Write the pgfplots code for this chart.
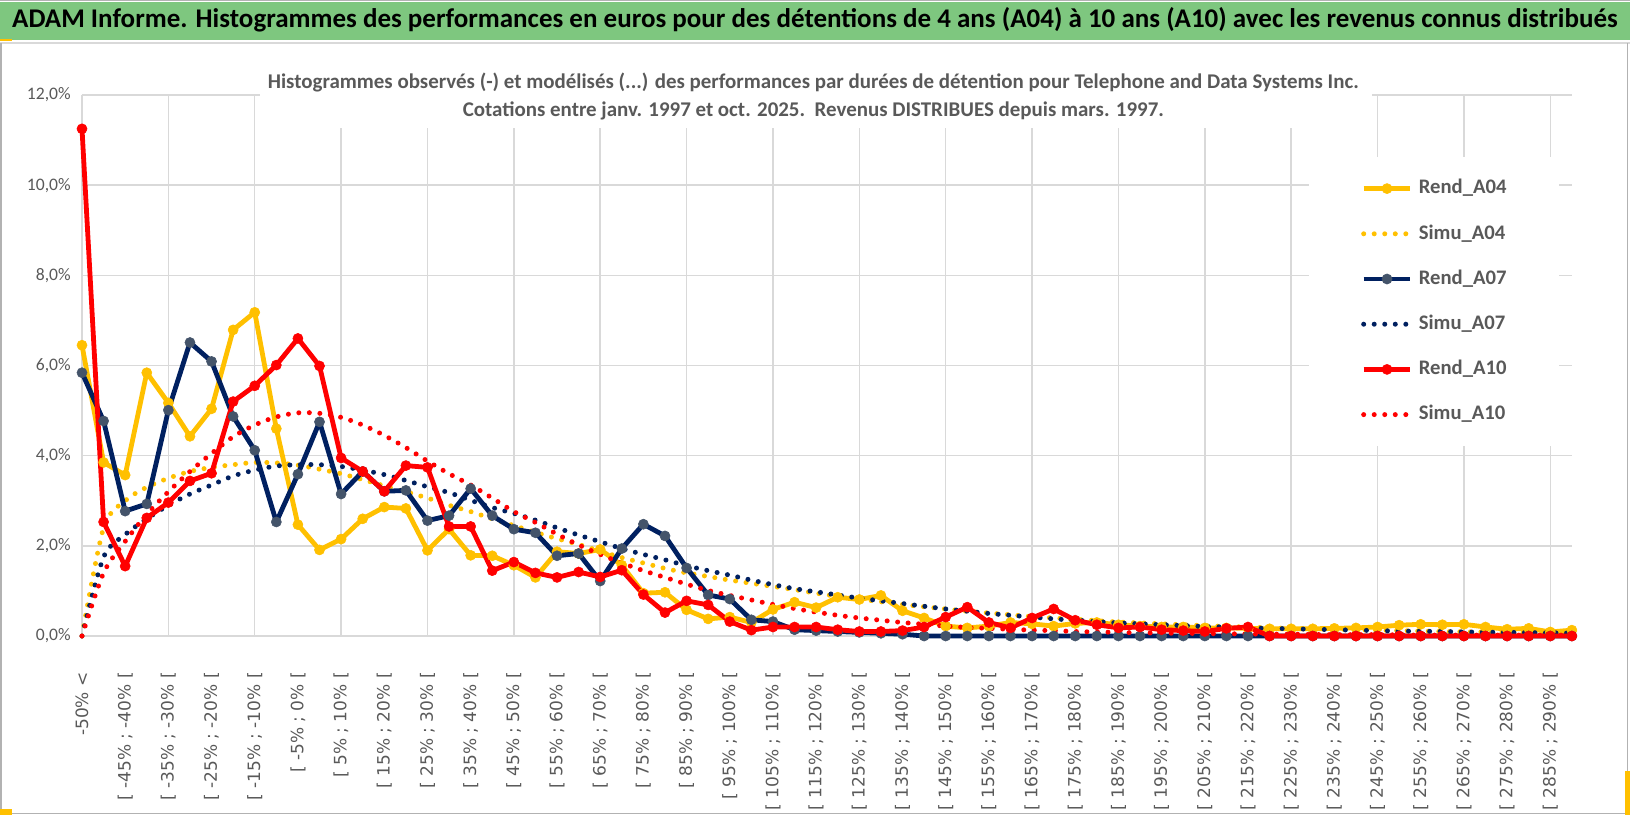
\documentclass[border=0pt]{standalone}
\usepackage{fontspec}
\setmainfont{Carlito}
\newfontfamily\xfont{DejaVu Sans}
\usepackage{graphicx}
\usepackage{pgfplots}
\pgfplotsset{compat=1.18}
\usepackage{pgfplotstable}
\definecolor{gold}{HTML}{FFC000}
\definecolor{navy}{HTML}{002060}
\definecolor{navymark}{HTML}{44546A}
\definecolor{rred}{HTML}{FF0000}
\definecolor{txtgray}{HTML}{595959}
\definecolor{gridgray}{HTML}{D9D9D9}
\definecolor{titlegreen}{HTML}{7EC77F}
\pgfplotstableread{
i r04 s04 r07 s07 r10 s10
0 6.45 0 5.84 0 11.25 0
1 3.85 2.40 4.77 1.75 2.53 1.40
2 3.57 3.00 2.77 2.25 1.55 2.10
3 5.84 3.30 2.93 2.60 2.62 2.70
4 5.17 3.50 5.01 2.90 2.96 3.20
5 4.43 3.65 6.51 3.15 3.44 3.65
6 5.04 3.74 6.09 3.35 3.61 4.05
7 6.79 3.80 4.87 3.55 5.20 4.42
8 7.18 3.85 4.12 3.68 5.55 4.68
9 4.60 3.84 2.53 3.77 6.01 4.86
10 2.47 3.79 3.59 3.80 6.60 4.95
11 1.91 3.70 4.75 3.80 5.99 4.94
12 2.15 3.60 3.15 3.76 3.95 4.85
13 2.60 3.47 3.65 3.68 3.65 4.68
14 2.86 3.33 3.21 3.58 3.21 4.45
15 2.83 3.20 3.23 3.45 3.78 4.18
16 1.90 3.06 2.56 3.31 3.74 3.88
17 2.37 2.90 2.67 3.18 2.43 3.60
18 1.79 2.76 3.27 3.01 2.43 3.35
19 1.78 2.60 2.67 2.85 1.45 3.06
20 1.57 2.45 2.37 2.72 1.64 2.76
21 1.30 2.30 2.29 2.57 1.40 2.52
22 1.87 2.16 1.78 2.40 1.30 2.26
23 1.83 2.03 1.83 2.24 1.42 2.02
24 1.92 1.88 1.22 2.09 1.31 1.81
25 1.57 1.74 1.94 1.94 1.46 1.62
26 0.95 1.62 2.48 1.81 0.92 1.45
27 0.97 1.50 2.22 1.69 0.52 1.30
28 0.58 1.40 1.51 1.56 0.78 1.15
29 0.38 1.32 0.91 1.45 0.69 1.01
30 0.42 1.24 0.82 1.35 0.32 0.90
31 0.30 1.17 0.36 1.24 0.13 0.80
32 0.59 1.10 0.32 1.14 0.20 0.70
33 0.75 1.03 0.14 1.05 0.20 0.61
34 0.63 0.95 0.12 0.98 0.20 0.53
35 0.86 0.88 0.10 0.91 0.14 0.46
36 0.81 0.82 0.08 0.84 0.10 0.40
37 0.90 0.76 0.06 0.78 0.10 0.35
38 0.56 0.70 0.04 0.72 0.12 0.30
39 0.40 0.65 0 0.66 0.20 0.26
40 0.22 0.60 0 0.60 0.42 0.22
41 0.18 0.55 0 0.55 0.64 0.19
42 0.22 0.51 0 0.50 0.30 0.17
43 0.30 0.47 0 0.46 0.18 0.15
44 0.27 0.43 0 0.42 0.40 0.13
45 0.22 0.40 0 0.38 0.60 0.12
46 0.28 0.37 0 0.35 0.35 0.10
47 0.30 0.34 0 0.32 0.25 0.09
48 0.25 0.31 0 0.29 0.18 0.08
49 0.22 0.29 0 0.27 0.20 0.07
50 0.20 0.27 0 0.25 0.14 0.065
51 0.20 0.25 0 0.23 0.12 0.06
52 0.18 0.23 0 0.21 0.10 0.055
53 0.18 0.21 0 0.20 0.17 0.05
54 0.17 0.20 0 0.18 0.20 0.045
55 0.16 0.18 0 0.17 0 0.04
56 0.16 0.17 0 0.16 0 0.04
57 0.16 0.16 0 0.15 0 0.035
58 0.17 0.15 0 0.14 0 0.03
59 0.18 0.14 0 0.13 0 0.03
60 0.20 0.13 0 0.12 0 0.03
61 0.24 0.12 0 0.11 0 0.025
62 0.26 0.11 0 0.105 0 0.02
63 0.25 0.10 0 0.10 0 0.02
64 0.26 0.095 0 0.09 0 0.02
65 0.20 0.09 0 0.085 0 0.02
66 0.15 0.085 0 0.08 0 0.02
67 0.17 0.08 0 0.075 0 0.02
68 0.09 0.075 0 0.07 0 0.02
69 0.13 0.07 0 0.065 0 0.02
}\data
\begin{document}
\begin{tikzpicture}
\path[use as bounding box] (0,0) rectangle (1222.5pt,-611.25pt);
\fill[titlegreen] (0,-1.5pt) rectangle (1222.5pt,-30pt);
\draw[gray!60, line width=1pt] (0,-0.5pt) -- (1222.5pt,-0.5pt);
\draw[gridgray, line width=1.5pt] (0,-32pt) -- (1222.5pt,-32pt);
\draw[gray!60, line width=1.2pt] (0.6pt,-32pt) -- (0.6pt,-610pt) -- (1220.5pt,-610pt) -- (1220.5pt,-32pt);
\fill[gold] (0,-29pt) rectangle (9pt,-31pt);
\fill[gold] (0,-607pt) rectangle (9pt,-611.25pt);
\fill[gold] (1219pt,-578pt) rectangle (1222.5pt,-611.25pt);
\begin{axis}[
  at={(61.5pt,-477pt)}, anchor=south west,
  scale only axis, width=1117.5pt, height=405.75pt,
  xmin=0, xmax=69, ymin=0, ymax=12,
  clip=false,
  axis line style={draw=none},
  major tick length=0pt, minor tick length=0pt,
  ytick={0,2,...,12},
  yticklabels={{0,0\%},{2,0\%},{4,0\%},{6,0\%},{8,0\%},{10,0\%},{12,0\%}},
  yticklabel style={anchor=east, inner sep=0pt, xshift=-8.25pt, text=txtgray, font=\fontsize{13.2pt}{15pt}\selectfont},
  ymajorgrids=true,
  grid style={gridgray, line width=1.1pt},
  minor grid style={gridgray, line width=1.1pt},
  xtick={0,2,...,68},
  minor xtick={0,4,...,68},
  xminorgrids=true,
  xticklabels={{-50\% <},{[ -45\% ; -40\% [},{[ -35\% ; -30\% [},{[ -25\% ; -20\% [},{[ -15\% ; -10\% [},{[ -5\% ; 0\% [},{[ 5\% ; 10\% [},{[ 15\% ; 20\% [},{[ 25\% ; 30\% [},{[ 35\% ; 40\% [},{[ 45\% ; 50\% [},{[ 55\% ; 60\% [},{[ 65\% ; 70\% [},{[ 75\% ; 80\% [},{[ 85\% ; 90\% [},{[ 95\% ; 100\% [},{[ 105\% ; 110\% [},{[ 115\% ; 120\% [},{[ 125\% ; 130\% [},{[ 135\% ; 140\% [},{[ 145\% ; 150\% [},{[ 155\% ; 160\% [},{[ 165\% ; 170\% [},{[ 175\% ; 180\% [},{[ 185\% ; 190\% [},{[ 195\% ; 200\% [},{[ 205\% ; 210\% [},{[ 215\% ; 220\% [},{[ 225\% ; 230\% [},{[ 235\% ; 240\% [},{[ 245\% ; 250\% [},{[ 255\% ; 260\% [},{[ 265\% ; 270\% [},{[ 275\% ; 280\% [},{[ 285\% ; 290\% [}},
  xticklabel style={yshift=-27pt, rotate=90, anchor=east, inner sep=0pt, text=txtgray, font=\xfont\fontsize{12.75pt}{14pt}\selectfont},
  legend style={at={(0.8235,0.8854)}, anchor=north west, draw=none, fill=white,
    inner xsep=39pt, inner ysep=16pt, row sep=18.9pt,
    font=\fontsize{15.5pt}{18pt}\selectfont\bfseries, text=txtgray,
    nodes={inner sep=0pt, text height=11.5pt, text depth=3.5pt},
    /tikz/every odd column/.append style={column sep=4.5pt}},
  legend cell align=left,
  legend image code/.code={\draw[mark repeat=2,mark phase=2] plot coordinates {(0pt,0pt) (17.5pt,0pt) (35pt,0pt)};},
  rend/.style={line width=3.6pt, line join=round, mark=*, mark size=3.8pt},
  simu/.style={line width=3.75pt, line cap=round, dash pattern=on 0pt off 7.9pt, smooth, mark=none},
]
\addplot[rend, gold, mark options={solid, line width=0.4pt, fill=gold, draw=gold}] table[x=i, y=r04] {\data};
\addlegendentry{Rend\_A04}
\addplot[simu, gold] table[x=i, y=s04] {\data};
\addlegendentry{Simu\_A04}
\addplot[rend, navy, mark options={solid, line width=0.4pt, fill=navymark, draw=navymark}] table[x=i, y=r07] {\data};
\addlegendentry{Rend\_A07}
\addplot[simu, navy] table[x=i, y=s07] {\data};
\addlegendentry{Simu\_A07}
\addplot[rend, rred, mark options={solid, line width=0.4pt, fill=rred, draw=rred}] table[x=i, y=r10] {\data};
\addlegendentry{Rend\_A10}
\addplot[simu, rred] table[x=i, y=s10] {\data};
\addlegendentry{Simu\_A10}
\end{axis}
\node[fill=white, minimum width=834pt, minimum height=54.75pt, inner sep=0pt] at (612pt,-68.6pt) {};
\node[text=txtgray, font=\fontsize{15.7pt}{18pt}\selectfont\bfseries, inner sep=0pt] at (610pt,-61.5pt) {Histogrammes observés (-) et modélisés (...) des performances par durées de détention pour Telephone and Data Systems Inc.};
\node[text=txtgray, font=\fontsize{15.7pt}{18pt}\selectfont\bfseries, inner sep=0pt] at (610pt,-83.5pt) {Cotations entre janv. 1997 et oct. 2025.\ \ Revenus DISTRIBUES depuis mars. 1997.};
\node[inner sep=0pt] at (611.25pt,-15pt) {\resizebox{1204pt}{!}{\bfseries ADAM Informe. Histogrammes des performances en euros pour des détentions de 4 ans (A04) à 10 ans (A10) avec les revenus connus distribués}};
\end{tikzpicture}
\end{document}
